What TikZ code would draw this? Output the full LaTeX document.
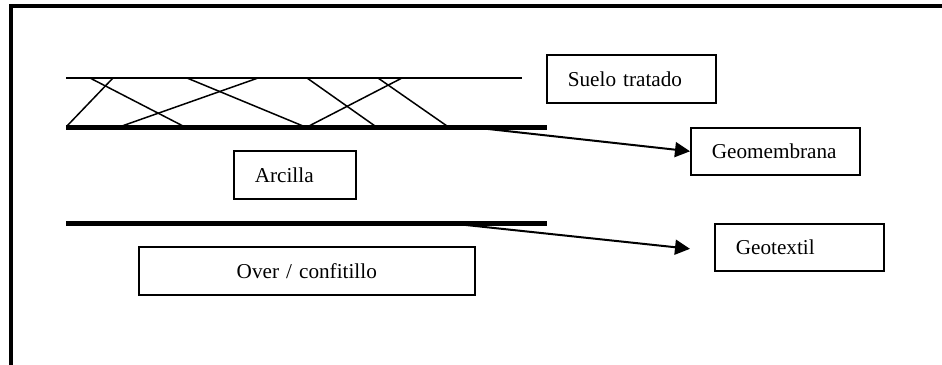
\documentclass[tikz,border=0pt]{standalone}
\usepackage{fontspec}
\setmainfont{Liberation Serif}
\usepackage{tikz}
\usetikzlibrary{arrows.meta}
\tikzset{
  box/.style={
    draw,
    line width=0.8pt,
    anchor=north west,
    align=left,
    inner xsep=10.5pt,
    inner ysep=0pt,
    minimum height=24pt,
    font=\fontsize{10.6}{12}\selectfont
  },
  layer/.style={line width=0.75pt},
  membrane/.style={line width=2.5pt},
  pointer/.style={-{Triangle[length=7.5pt,width=7.5pt]}, line width=1pt}
}

\begin{document}
\begin{tikzpicture}[x=0.5pt,y=-0.5pt]
  \useasboundingbox (0,0) rectangle (942,364);
  \clip (0,0) rectangle (942,364);
  % outer frame, cut at the page edge
  \draw[line width=2pt] (10.5,6) rectangle (980,400);

  % treated soil: top line, hatching, geomembrane
  \coordinate (soiltopL) at (66,78);
  \coordinate (soiltopR) at (522,78);
  \draw[layer] (soiltopL) -- (soiltopR);
  \foreach \xa/\xb in {113/67, 90/183, 258/122, 187/303, 402/309, 307/375, 378/447}
    \draw[layer] (\xa,78) -- (\xb,126);
  \coordinate (gmL) at (66,127);
  \coordinate (gmR) at (547,127);
  \coordinate (gmtap) at (470,127);
  \draw[membrane] (gmL) -- (gmR);

  % geotextile under the clay
  \coordinate (gtL) at (66,223);
  \coordinate (gtR) at (547,223);
  \coordinate (gttap) at (447,223);
  \draw[membrane] (gtL) -- (gtR);

  \node[box, text width=63.5pt] (suelo) at (546,54) {Suelo tratado};
  \node[box, text width=63.5pt, minimum height=23.5pt] (geomembrana) at (690,127) {Geomembrana};
  \node[box, text width=40pt] (arcilla) at (233,150) {Arcilla};
  \node[box, text width=63.5pt, minimum height=23.5pt] (geotextil) at (714,223) {Geotextil};
  \node[box, text width=147pt, align=center] (over) at (138,246) {Over / confitillo};

  \draw[pointer] (gmtap) -- (geomembrana.west);
  \draw[pointer] (gttap) -- ([xshift=-12pt,yshift=-0.75pt]geotextil.west);
\end{tikzpicture}
\end{document}
